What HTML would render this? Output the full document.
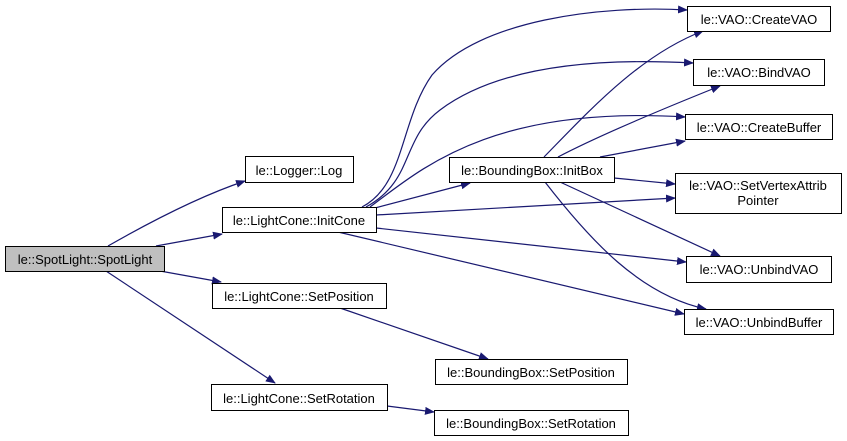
<!DOCTYPE html>
<html><head><meta charset="utf-8"><style>
html,body{margin:0;padding:0;background:#fff;width:847px;height:441px;overflow:hidden}
text{font-family:"Liberation Sans",sans-serif;font-size:13px;fill:#000}
</style></head><body>
<svg width="847" height="441" viewBox="0 0 847 441" xmlns="http://www.w3.org/2000/svg">
<defs><marker id="a" markerWidth="10" markerHeight="8" refX="9" refY="4" orient="auto" markerUnits="userSpaceOnUse"><path d="M0,0 L10,4 L0,8 z" fill="#191970"/></marker></defs>
<g fill="none" stroke="#191970" stroke-width="1.2" marker-end="url(#a)">
<path d="M108,246 C150,222 200,196 245,181"/>
<path d="M156,246 L222,234"/>
<path d="M160,271 L221,282"/>
<path d="M106,271 L275,383"/>
<path d="M362,207 C405,185 400,120 432,75 C480,20 600,5 687,10"/>
<path d="M366,207 C415,180 400,140 440,110 C500,65 600,58 693,63"/>
<path d="M370,207 C420,170 490,105 685,117"/>
<path d="M375,208 L470,183"/>
<path d="M376,215 L675,198"/>
<path d="M376,228 L686,262"/>
<path d="M338,232 L684,314"/>
<path d="M544,157 C590,110 640,55 703,31"/>
<path d="M558,157 C600,135 660,110 720,86"/>
<path d="M600,157 L685,141"/>
<path d="M614,178 L675,184"/>
<path d="M560,182 L720,256"/>
<path d="M545,182 C590,240 640,295 706,309"/>
<path d="M340,308 L488,359"/>
<path d="M387,406 L434,412"/>
</g>
<g stroke="#000" stroke-width="1" fill="#fff">
<rect x="5.5" y="246.5" width="159" height="25" fill="#bfbfbf"/>
<rect x="245.5" y="156.5" width="108" height="26"/>
<rect x="222.5" y="207.5" width="154" height="25"/>
<rect x="212.5" y="283.5" width="174" height="25"/>
<rect x="211.5" y="384.5" width="176" height="26"/>
<rect x="687.5" y="6.5" width="143" height="25"/>
<rect x="693.5" y="59.5" width="131" height="26"/>
<rect x="685.5" y="114.5" width="147" height="25"/>
<rect x="449.5" y="157.5" width="165" height="25"/>
<rect x="675.5" y="173.5" width="166" height="40"/>
<rect x="686.5" y="256.5" width="145" height="26"/>
<rect x="684.5" y="309.5" width="149" height="25"/>
<rect x="435.5" y="359.5" width="192" height="25"/>
<rect x="434.5" y="410.5" width="194" height="25"/>
</g>
<g text-anchor="middle">
<text x="85" y="264">le::SpotLight::SpotLight</text>
<text x="299" y="175">le::Logger::Log</text>
<text x="299" y="225">le::LightCone::InitCone</text>
<text x="299" y="301">le::LightCone::SetPosition</text>
<text x="299" y="403">le::LightCone::SetRotation</text>
<text x="759" y="24">le::VAO::CreateVAO</text>
<text x="759" y="77">le::VAO::BindVAO</text>
<text x="759" y="132">le::VAO::CreateBuffer</text>
<text x="532" y="175">le::BoundingBox::InitBox</text>
<text x="758" y="190">le::VAO::SetVertexAttrib</text>
<text x="758" y="205">Pointer</text>
<text x="759" y="274">le::VAO::UnbindVAO</text>
<text x="759" y="327">le::VAO::UnbindBuffer</text>
<text x="531" y="377">le::BoundingBox::SetPosition</text>
<text x="531" y="428">le::BoundingBox::SetRotation</text>
</g>
</svg>
</body></html>
